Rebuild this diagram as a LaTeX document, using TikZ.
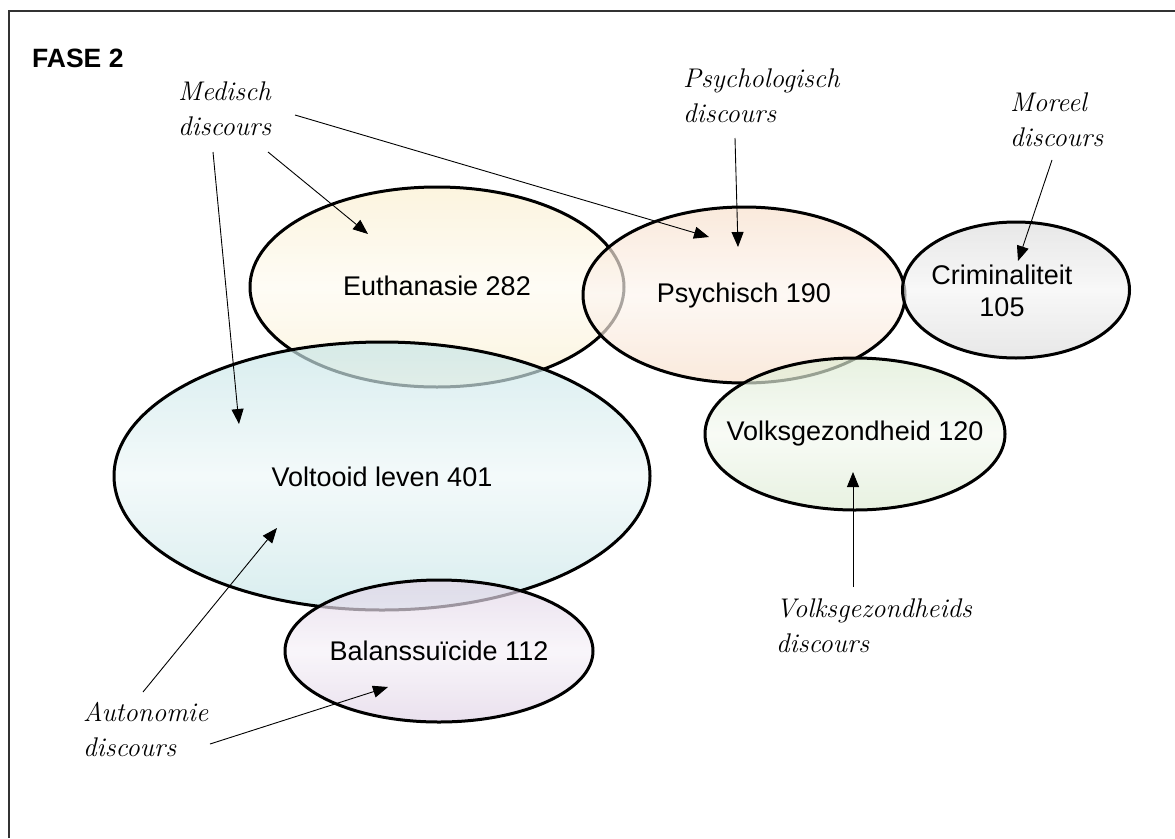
\documentclass[tikz,border=0pt]{standalone}
\usepackage{fontspec}
\newfontfamily\sansfont{Liberation Sans}
\usetikzlibrary{arrows.meta,shapes.geometric}

\definecolor{euthC}{HTML}{FAEFCF}
\definecolor{psyC}{HTML}{F7DFCB}
\definecolor{crimC}{HTML}{DCDCDC}
\definecolor{volksC}{HTML}{DCEBD2}
\definecolor{voltC}{HTML}{C6E5E7}
\definecolor{balC}{HTML}{E0D2E6}

\tikzset{
  blob/.style={ellipse, draw=black, line width=3pt, inner sep=0pt,
    top color=#1, bottom color=#1, middle color=white!70!#1,
    fill opacity=0.68},
  count/.style={font=\sansfont\fontsize{27}{32}\selectfont, align=center},
  note/.style={anchor=base west, align=left, inner sep=2pt,
    font=\itshape\fontsize{27}{35}\selectfont},
  pointer/.style={line width=0.9pt, -{Triangle[length=15pt,width=12pt]}},
}

\begin{document}
\begin{tikzpicture}[x=1pt,y=-1pt]
\useasboundingbox (0,0) rectangle (1175,838);

% frame (left and top edges)
\draw[line width=2pt, black!80] (9,838) -- (9,11) -- (1175,11);

\node[anchor=base west, font=\sansfont\bfseries\fontsize{26.5}{30}\selectfont, inner sep=0pt]
  (title) at (32,67) {FASE 2};

% discourse areas
\node[blob=euthC, minimum width=374pt, minimum height=200pt] (euth) at (437,287) {};
\node[blob=psyC, minimum width=322pt, minimum height=176pt] (psych) at (744,295) {};
\node[blob=crimC, minimum width=227pt, minimum height=136pt] (crim) at (1016,290) {};
\node[blob=volksC, minimum width=300pt, minimum height=152pt] (volks) at (855,434) {};
\node[blob=voltC, minimum width=536pt, minimum height=268pt] (volt) at (382,476) {};
\node[blob=balC, minimum width=308pt, minimum height=142pt] (bal) at (439,651) {};

% counts
\node[count] (teuth) at (437,286) {Euthanasie 282};
\node[count] (tpsych) at (744,296) {Psychisch 190};
\node[count] (tcrim) at (1002,291) {Criminaliteit\\105};
\node[count] (tvolks) at (855,434) {Volksgezondheid 120};
\node[count] (tvolt) at (382,477) {Voltooid leven 401};
\node[count] (tbal) at (439,651) {Balanssuïcide 112};

% discourse labels (anchored at the baseline of the last line)
\node[note] (med) at (176,135) {Medisch\\discours};
\node[note] (psl) at (681,122) {Psychologisch\\discours};
\node[note] (mor) at (1008,146) {Moreel\\discours};
\node[note] (vgd) at (774,652) {Volksgezondheids\\discours};
\node[note] (aut) at (81,756) {Autonomie\\discours};

% arrow targets
\coordinate (pEuth) at (368,234);
\coordinate (pPsyA) at (709,237);
\coordinate (pPsyB) at (738,247);
\coordinate (pVolt) at (239,424);
\coordinate (pCrim) at (1018,261);
\coordinate (pVolks) at (853,472);
\coordinate (pVoltB) at (277,528);
\coordinate (pBal) at (388,687);

% arrow origins next to the labels
\coordinate (sMedA) at (295,115);
\coordinate (sMedB) at (268,152);
\coordinate (sMedC) at (213,152);
\coordinate (sPsy) at (735,138);
\coordinate (sMor) at (1052,160);
\coordinate (sVgd) at (853,587);
\coordinate (sAutA) at (143,692);
\coordinate (sAutB) at (210,744);

\draw[pointer] (sMedA) -- (pPsyA);
\draw[pointer] (sMedB) -- (pEuth);
\draw[pointer] (sMedC) -- (pVolt);
\draw[pointer] (sPsy) -- (pPsyB);
\draw[pointer] (sMor) -- (pCrim);
\draw[pointer] (sVgd) -- (pVolks);
\draw[pointer] (sAutA) -- (pVoltB);
\draw[pointer] (sAutB) -- (pBal);
\end{tikzpicture}
\end{document}
